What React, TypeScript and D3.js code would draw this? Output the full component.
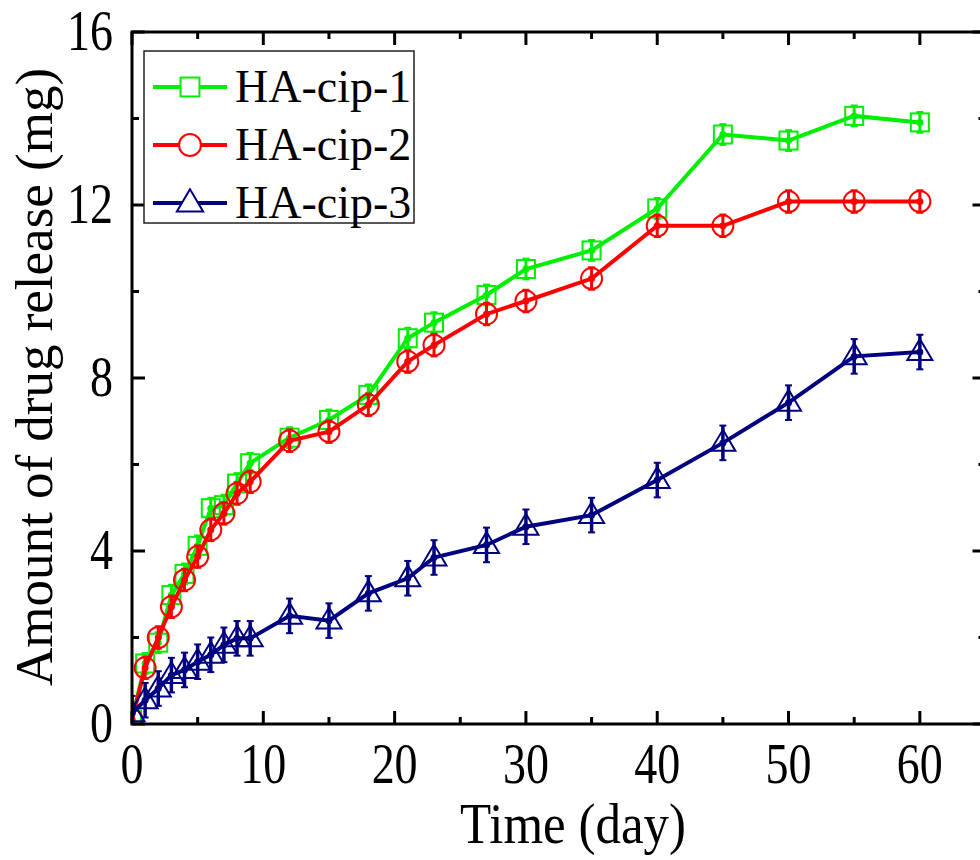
import React, { useEffect, useRef } from "react";
import * as d3 from "d3";

const days = [0, 1, 2, 3, 4, 5, 6, 7, 8, 9, 12, 15, 18, 21, 23, 27, 30, 35, 40, 45, 50, 55, 60];
const cip1 = [0.1, 1.4, 1.88, 2.98, 3.47, 4.12, 4.99, 5.06, 5.56, 6.03, 6.62, 7.03, 7.61, 8.92, 9.28, 9.92, 10.52, 10.95, 11.92, 13.63, 13.49, 14.06, 13.91];
const cip2 = [0.1, 1.3, 2.0, 2.71, 3.33, 3.87, 4.49, 4.87, 5.33, 5.6, 6.55, 6.76, 7.38, 8.38, 8.76, 9.48, 9.78, 10.3, 11.52, 11.52, 12.08, 12.08, 12.08];
const cip3 = [0.25, 0.55, 0.82, 1.13, 1.25, 1.44, 1.6, 1.83, 1.98, 1.98, 2.5, 2.39, 3.02, 3.37, 3.85, 4.14, 4.56, 4.83, 5.64, 6.5, 7.43, 8.5, 8.6];
const seriesNames = ["HA-cip-1", "HA-cip-2", "HA-cip-3"];
const seriesColors = ["#00ee00", "#ff0000", "#000080"];
const seriesErr = [0.24, 0.26, 0.4];
const xTicks = [0, 10, 20, 30, 40, 50, 60];
const yTicks = [0, 4, 8, 12, 16];

export default function App() {
  const ref = useRef<SVGSVGElement>(null);
  useEffect(() => {
    const svg = d3.select(ref.current);
    svg.selectAll("*").remove();
    const x = d3.scaleLinear().domain([0, 65]).range([132, 985.5]);
    const y = d3.scaleLinear().domain([0, 16]).range([724, 32]);
    const font = "'Liberation Serif', 'Times New Roman', serif";

    svg.append("defs").append("clipPath").attr("id", "clip")
      .append("rect").attr("x", x(0)).attr("y", y(16)).attr("width", x(65) - x(0)).attr("height", y(0) - y(16));

    const plot = svg.append("g").attr("clip-path", "url(#clip)");
    const allSeries = [cip1, cip2, cip3];
    const line = d3.line<[number, number]>().x(d => x(d[0])).y(d => y(d[1]));

    const drawMarker = (g: any, i: number, cx: number, cy: number, scale = 1) => {
      const c = seriesColors[i];
      if (i === 0) {
        const s = 18 * scale;
        g.append("rect").attr("x", cx - s / 2).attr("y", cy - s / 2).attr("width", s).attr("height", s)
          .attr("fill", "none").attr("stroke", c).attr("stroke-width", 2);
      } else if (i === 1) {
        g.append("circle").attr("cx", cx).attr("cy", cy).attr("r", 10.5 * scale)
          .attr("fill", "none").attr("stroke", c).attr("stroke-width", 2);
      } else {
        const w = 25 * scale, h = 21 * scale;
        g.append("path").attr("d", `M${cx},${cy - h * 0.62}L${cx + w / 2},${cy + h * 0.38}L${cx - w / 2},${cy + h * 0.38}Z`)
          .attr("fill", "none").attr("stroke", c).attr("stroke-width", 2);
      }
    };

    allSeries.forEach((vals, i) => {
      const c = seriesColors[i];
      const pts: [number, number][] = days.map((d, k) => [d, vals[k]]);
      const g = plot.append("g");
      g.append("path").attr("d", line(pts)).attr("fill", "none").attr("stroke", c).attr("stroke-width", 4);
      pts.forEach(([d, v]) => {
        const cx = x(d), cy = y(v);
        const e = seriesErr[i];
        g.append("line").attr("x1", cx).attr("x2", cx).attr("y1", y(v - e)).attr("y2", y(v + e))
          .attr("stroke", c).attr("stroke-width", i === 2 ? 3.5 : 3);
        [v - e, v + e].forEach(ev => {
          g.append("line").attr("x1", cx - 3.5).attr("x2", cx + 3.5).attr("y1", y(ev)).attr("y2", y(ev))
            .attr("stroke", c).attr("stroke-width", 2);
        });
        g.append("circle").attr("cx", cx).attr("cy", cy).attr("r", 3.5).attr("fill", c);
        drawMarker(g, i, cx, cy);
      });
    });

    // frame
    const ax = svg.append("g");
    const x0 = x(0), x1 = x(65), y0 = y(0), y1 = y(16);
    ax.append("rect").attr("x", x0).attr("y", y1).attr("width", x1 - x0).attr("height", y0 - y1)
      .attr("fill", "none").attr("stroke", "#000").attr("stroke-width", 3);

    const xMinor = d3.range(5, 65, 10);
    const yMinor = d3.range(2, 16, 4);
    const tick = (x1_: number, y1_: number, x2_: number, y2_: number) =>
      ax.append("line").attr("x1", x1_).attr("y1", y1_).attr("x2", x2_).attr("y2", y2_).attr("stroke", "#000").attr("stroke-width", 3);
    xTicks.forEach(t => { tick(x(t), y0, x(t), y0 - 13); tick(x(t), y1, x(t), y1 + 13); });
    xMinor.forEach(t => { tick(x(t), y0, x(t), y0 - 7); tick(x(t), y1, x(t), y1 + 7); });
    yTicks.forEach(t => { tick(x0, y(t), x0 + 13, y(t)); tick(x1, y(t), x1 - 13, y(t)); });
    yMinor.forEach(t => { tick(x0, y(t), x0 + 7, y(t)); tick(x1, y(t), x1 - 7, y(t)); });

    // tick labels
    xTicks.forEach(t => {
      ax.append("text").attr("transform", `translate(${x(t)},${y0 + 59}) scale(1,1.22)`)
        .attr("text-anchor", "middle").attr("font-family", font).attr("font-size", 46).text(String(t));
    });
    yTicks.forEach(t => {
      ax.append("text").attr("transform", `translate(${x0 - 19},${y(t) + 18}) scale(1,1.22)`)
        .attr("text-anchor", "end").attr("font-family", font).attr("font-size", 46).text(String(t));
    });

    // axis titles
    ax.append("text").attr("transform", `translate(573,${843}) scale(1,1.1)`)
      .attr("text-anchor", "middle").attr("font-family", font).attr("font-size", 51).text("Time (day)");
    ax.append("text").attr("transform", `translate(52,${377}) rotate(-90)`)
      .attr("text-anchor", "middle").attr("font-family", font).attr("font-size", 53).text("Amount of drug release (mg)");

    // legend
    const lg = svg.append("g");
    lg.append("rect").attr("x", 144).attr("y", 51).attr("width", 270).attr("height", 172)
      .attr("fill", "#fff").attr("stroke", "#222").attr("stroke-width", 1.5);
    const rowsY = [87, 145, 203];
    seriesNames.forEach((name, i) => {
      const ry = rowsY[i];
      lg.append("line").attr("x1", 153).attr("x2", 227).attr("y1", ry).attr("y2", ry)
        .attr("stroke", seriesColors[i]).attr("stroke-width", 4);
      const mg = lg.append("g");
      if (i === 0) mg.append("rect").attr("x", 190 - 9.5).attr("y", ry - 9.5).attr("width", 19).attr("height", 19).attr("fill", "#fff");
      if (i === 1) mg.append("circle").attr("cx", 190).attr("cy", ry).attr("r", 10).attr("fill", "#fff");
      if (i === 2) mg.append("path").attr("d", `M190,${ry - 13}L202.5,${ry + 8}L177.5,${ry + 8}Z`).attr("fill", "#fff");
      drawMarker(mg, i, 190, ry, 1.05);
      lg.append("text").attr("x", 235).attr("y", ry + 15).attr("font-family", font).attr("font-size", 46).text(name);
    });
  }, []);
  return (
    <svg ref={ref} width={980} height={860} style={{ position: "absolute", left: 0, top: 0, background: "#fff" }} />
  );
}
